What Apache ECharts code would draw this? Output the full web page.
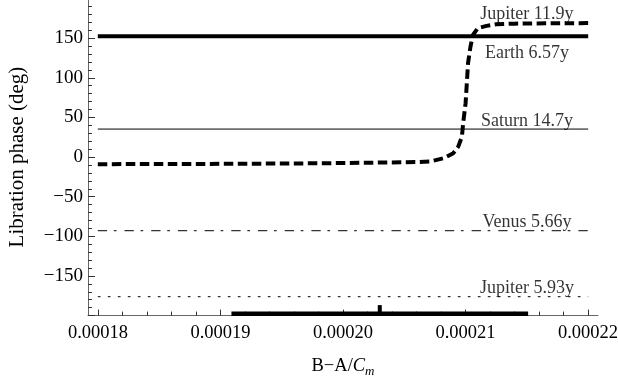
<!DOCTYPE html>
<html>
<head>
<meta charset="utf-8">
<script src="https://cdn.jsdelivr.net/npm/echarts@6/dist/echarts.min.js"></script>
<style>html,body{margin:0;padding:0;background:#fff}#c{width:618px;height:379px}</style>
</head>
<body>
<div id="c"></div>
<script>
// ---- data ----
const xTickValues = [0.00018, 0.00019, 0.00020, 0.00021, 0.00022];
const yTickValues = [-150, -100, -50, 0, 50, 100, 150];
// Jupiter 11.9y libration phase curve
const jupiter119X = [0.000180, 0.000190, 0.000198, 0.000203, 0.000206, 0.0002071, 0.0002082, 0.0002090, 0.0002094, 0.0002097, 0.0002098, 0.0002100, 0.0002101, 0.0002102, 0.0002104, 0.0002106, 0.0002110, 0.0002117, 0.0002125, 0.000214, 0.000217, 0.000220];
const jupiter119Y = [-9.0, -8.6, -7.9, -7.0, -6.3, -5.6, -1.5, 4.9, 13.2, 25.8, 42.7, 68.0, 93.0, 118.5, 139.4, 154.0, 162.6, 165.5, 167.5, 168.3, 168.7, 169.0];
// constant phases
const lineNames = ['Earth 6.57y', 'Saturn 14.7y', 'Venus 5.66y', 'Jupiter 5.93y'];
const linePhases = [152.5, 35.3, -92.9, -176.0];
const lineXRange = [0.00018, 0.00022];
// measured B-A/Cm range and value
const measuredRange = [0.0001909, 0.0002151];
const measuredValue = 0.000203;

// ---- styling ----
const FONT = 'Liberation Serif';
const labelX = 0.000215;
const axisGray = '#666';
const yMin = -200, yMax = 200;

const lineStyles = [
  { width: 4, type: 'solid', color: '#000' },
  { width: 1, type: 'solid', color: '#000' },
  { width: 1.2, type: [9.3, 6.7, 2.7, 8], color: '#333' },
  { width: 1.2, type: [2.7, 7.3], color: '#333' }
];
const labelOffsets = [[0, 17], [0, -8], [0, -8], [0, -8]];
const labelStyle = { show: true, position: 'inside', fontFamily: FONT, fontSize: 18, color: '#000',
                     textBorderWidth: 0, textShadowBlur: 0 };

const series = [];
series.push({
  type: 'line', xAxisIndex: 0, yAxisIndex: 0, showSymbol: false, symbol: 'none',
  data: jupiter119X.map((x, i) => [x, jupiter119Y[i]]),
  lineStyle: { width: 4, type: [9.5, 4.5], color: '#000', cap: 'butt' },
  z: 3, silent: true
});
series.push({
  type: 'scatter', xAxisIndex: 0, yAxisIndex: 0, symbolSize: 0,
  data: [[labelX, jupiter119Y[jupiter119Y.length - 1]]],
  label: Object.assign({}, labelStyle, { formatter: 'Jupiter 11.9y', offset: [0, -9] }),
  silent: true, z: 5
});
lineNames.forEach((nm, i) => {
  series.push({
    type: 'line', xAxisIndex: 0, yAxisIndex: 0, symbol: 'none',
    data: lineXRange.map(x => [x, linePhases[i]]),
    lineStyle: lineStyles[i], silent: true, z: 2
  });
  series.push({
    type: 'scatter', xAxisIndex: 0, yAxisIndex: 0, symbolSize: 0,
    data: [[labelX, linePhases[i]]],
    label: Object.assign({}, labelStyle, { formatter: nm, offset: labelOffsets[i] }),
    silent: true, z: 5
  });
});
// measured range bar + value marker sitting on the bottom axis
series.push({
  type: 'custom', xAxisIndex: 0, yAxisIndex: 0, silent: true, z: 6, clip: false,
  data: [[measuredRange[0], measuredRange[1], measuredValue]],
  renderItem: function (params, api) {
    const p0 = api.coord([api.value(0), yMin]);
    const p1 = api.coord([api.value(1), yMin]);
    const pv = api.coord([api.value(2), yMin]);
    return {
      type: 'group',
      children: [
        { type: 'rect', shape: { x: p0[0], y: p0[1] - 4, width: p1[0] - p0[0], height: 4.5 }, style: { fill: '#000' } },
        { type: 'rect', shape: { x: pv[0] - 2, y: pv[1] - 10.5, width: 4, height: 8 }, style: { fill: '#000' } }
      ]
    };
  }
});

const chart = echarts.init(document.getElementById('c'), null, { renderer: 'canvas' });
chart.setOption({
  animation: false,
  backgroundColor: '#fff',
  textStyle: { fontFamily: FONT },
  grid: [
    { left: 88, width: 510, top: -1.5, height: 317.1, containLabel: false, outerBoundsMode: 'none' },
    { left: 98, width: 490, top: -1.5, height: 317.1, containLabel: false, outerBoundsMode: 'none' }
  ],
  xAxis: [
    { type: 'value', gridIndex: 0, min: 0.0001792, max: 0.0002208,
      axisLine: { show: true, onZero: false, lineStyle: { color: axisGray, width: 1 } },
      axisTick: { show: false }, axisLabel: { show: false }, splitLine: { show: false },
      name: '{a|B−A/}{c|C}{m|m}', nameLocation: 'middle', nameGap: 40,
      nameTextStyle: {
        rich: {
          a: { fontFamily: FONT, fontSize: 18.5, color: '#000', lineHeight: 22 },
          c: { fontFamily: FONT, fontSize: 18.5, fontStyle: 'italic', color: '#000', lineHeight: 22 },
          m: { fontFamily: FONT, fontSize: 13, fontStyle: 'italic', color: '#000', lineHeight: 13, verticalAlign: 'bottom' }
        }
      }
    },
    { type: 'value', gridIndex: 1, min: xTickValues[0], max: xTickValues[xTickValues.length - 1], interval: 0.00001,
      axisLine: { show: false, onZero: false },
      axisTick: { show: true, inside: true, length: 6, lineStyle: { color: '#333', width: 1 } },
      minorTick: { show: true, splitNumber: 5, length: 4, lineStyle: { color: '#333', width: 1 } },
      axisLabel: { show: true, margin: 8, fontFamily: FONT, fontSize: 18.5, color: '#000',
                   formatter: v => v.toFixed(5) },
      splitLine: { show: false }, minorSplitLine: { show: false }
    }
  ],
  yAxis: [
    { type: 'value', gridIndex: 0, min: yMin, max: yMax, interval: 50,
      axisLine: { show: true, onZero: false, lineStyle: { color: axisGray, width: 1 } },
      axisTick: { show: true, inside: true, length: 7, lineStyle: { color: '#333', width: 1 } },
      minorTick: { show: true, splitNumber: 5, length: 4, lineStyle: { color: '#333', width: 1 } },
      axisLabel: { show: true, margin: 5, fontFamily: FONT, fontSize: 19, color: '#000',
                   formatter: v => (yTickValues.indexOf(v) < 0 ? '' : (v < 0 ? '−' + Math.abs(v) : String(v))) },
      splitLine: { show: false },
      name: 'Libration phase (deg)', nameLocation: 'middle', nameGap: 60, nameRotate: 90,
      nameTextStyle: { fontFamily: FONT, fontSize: 21, color: '#000' }
    },
    { type: 'value', gridIndex: 1, min: yMin, max: yMax, show: false }
  ],
  series: series
});
</script>
</body>
</html>
